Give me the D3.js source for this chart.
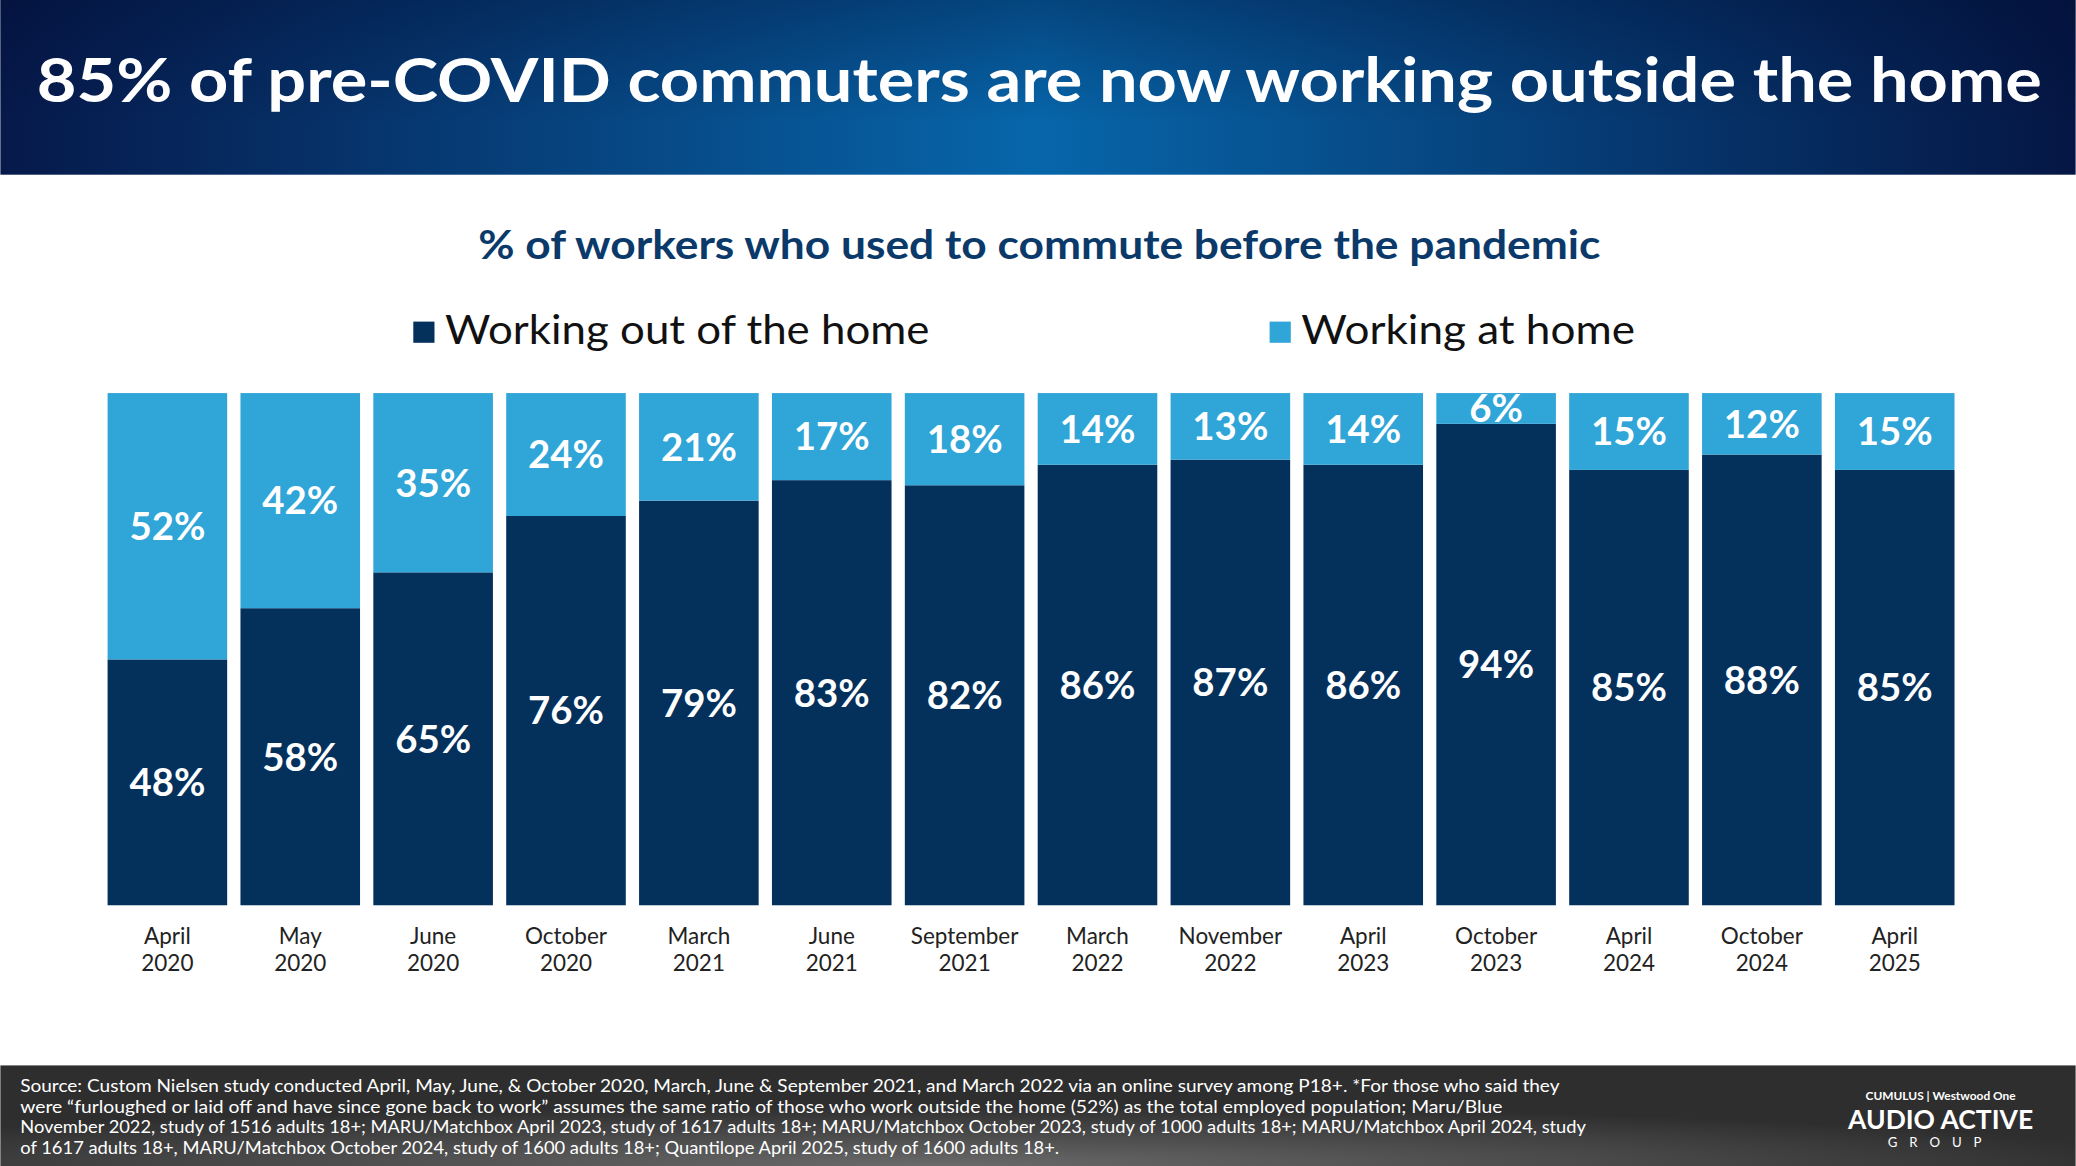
<!DOCTYPE html>
<html><head><meta charset="utf-8">
<script src="https://cdn.jsdelivr.net/npm/d3@7"></script>
<style>body{margin:0;background:#fff}svg{display:block}</style>
</head><body>
<svg id="c" width="2076" height="1166" viewBox="0 0 1568 881"></svg>
<script>
const periods = [["April","2020"],["May","2020"],["June","2020"],["October","2020"],["March","2021"],["June","2021"],["September","2021"],["March","2022"],["November","2022"],["April","2023"],["October","2023"],["April","2024"],["October","2024"],["April","2025"]];
const outside = [48,58,65,76,79,83,82,86,87,86,94,85,88,85];
const atHome = [52,42,35,24,21,17,18,14,13,14,6,15,12,15];
const seriesNames = ["Working out of the home","Working at home"];
const colors = ["#04305c","#2fa5d8"];
const footnote = [
 "Source: Custom Nielsen study conducted April, May, June, & October 2020, March, June & September 2021, and March 2022 via an online survey among P18+. *For those who said they",
 "were \u201cfurloughed or laid off and have since gone back  to work\u201d assumes the same ratio of those who work outside the home (52%) as the total employed population; Maru/Blue",
 "November 2022, study of 1516 adults 18+; MARU/Matchbox April 2023, study of 1617 adults 18+; MARU/Matchbox October 2023, study of 1000 adults 18+; MARU/Matchbox April 2024, study",
 "of 1617 adults 18+, MARU/Matchbox October 2024, study of 1600 adults 18+; Quantilope April 2025, study of 1600 adults 18+."
];
const footWidths = [1163, 1120, 1183, 785];

const svg = d3.select("#c");
const font = "Lato, 'Open Sans', sans-serif";
const defs = svg.append("defs");
const hg = defs.append("linearGradient").attr("id","hg").attr("x1",0).attr("x2",1).attr("y1",0).attr("y2",0);
hg.append("stop").attr("offset","0%").attr("stop-color","#06194a");
hg.append("stop").attr("offset","50%").attr("stop-color","#0766aa");
hg.append("stop").attr("offset","100%").attr("stop-color","#051644");
const vg = defs.append("linearGradient").attr("id","vg").attr("x1",0).attr("x2",0).attr("y1",0).attr("y2",1);
vg.append("stop").attr("offset","0%").attr("stop-color","#000a30").attr("stop-opacity",0.35);
vg.append("stop").attr("offset","70%").attr("stop-color","#000a30").attr("stop-opacity",0);
const fg = defs.append("radialGradient").attr("id","fg").attr("cx","45%").attr("cy","100%").attr("r","60%");
fg.append("stop").attr("offset","0%").attr("stop-color","#6a6a6a");
fg.append("stop").attr("offset","100%").attr("stop-color","#2e2e2e");

svg.append("rect").attr("width",1568).attr("height",132).attr("fill","url(#hg)");
svg.append("rect").attr("width",1568).attr("height",132).attr("fill","url(#vg)");
svg.append("text").attr("x",785).attr("y",77).attr("text-anchor","middle").attr("fill","#fff")
  .attr("font-family",font).attr("font-weight",700).attr("font-size",46)
  .attr("textLength",1515).attr("lengthAdjust","spacingAndGlyphs")
  .text("85% of pre-COVID commuters are now working outside the home");

svg.append("text").attr("x",785).attr("y",196).attr("text-anchor","middle").attr("fill","#0b3a6a")
  .attr("font-family",font).attr("font-weight",700).attr("font-size",30)
  .attr("textLength",848).attr("lengthAdjust","spacingAndGlyphs")
  .text("% of workers who used to commute before the pandemic");

const legX = [312, 959];
const legW = [366, 252];
seriesNames.forEach((n,i)=>{
  svg.append("rect").attr("x",legX[i]).attr("y",243).attr("width",16).attr("height",16).attr("fill",colors[i]);
  svg.append("text").attr("x",legX[i]+24).attr("y",260).attr("font-family",font).attr("font-size",31)
    .attr("textLength",legW[i]).attr("lengthAdjust","spacingAndGlyphs")
    .attr("fill","#111").text(n);
});

const x = d3.scaleBand().domain(d3.range(periods.length)).range([81,1476.5]).paddingInner(0.1).paddingOuter(0);
const y = d3.scaleLinear().domain([0,100]).range([684,297]);

const g = svg.append("g");
periods.forEach((p,i)=>{
  const bx = x(i), bw = x.bandwidth();
  g.append("rect").attr("x",bx).attr("width",bw).attr("y",y(outside[i])).attr("height",y(0)-y(outside[i])).attr("fill",colors[0]);
  g.append("rect").attr("x",bx).attr("width",bw).attr("y",y(100)).attr("height",y(outside[i])-y(100)).attr("fill",colors[1]);
  const cx = bx+bw/2;
  g.append("text").attr("x",cx).attr("y",(y(0)+y(outside[i]))/2).attr("dy","0.36em").attr("text-anchor","middle")
    .attr("fill","#fff").attr("font-family",font).attr("font-weight",700).attr("font-size",29).text(outside[i]+"%");
  g.append("text").attr("x",cx).attr("y",(y(100)+y(outside[i]))/2).attr("dy","0.36em").attr("text-anchor","middle")
    .attr("fill","#fff").attr("font-family",font).attr("font-weight",700).attr("font-size",29).text(atHome[i]+"%");
  p.forEach((t,k)=>g.append("text").attr("x",cx).attr("y",713+k*21).attr("text-anchor","middle")
    .attr("fill","#222").attr("font-family",font).attr("font-size",17).text(t));
});

svg.append("rect").attr("y",805).attr("width",1568).attr("height",76).attr("fill","url(#fg)");
footnote.forEach((l,i)=>svg.append("text").attr("x",15).attr("y",825+i*15.7).attr("fill","#fff")
  .attr("font-family",font).attr("font-size",12.6)
  .attr("textLength",footWidths[i]).attr("lengthAdjust","spacingAndGlyphs").text(l));
svg.append("text").attr("x",1466).attr("y",831).attr("text-anchor","middle").attr("fill","#fff")
  .attr("font-family",font).attr("font-size",9).attr("font-weight",700).text("CUMULUS  |  Westwood One");
svg.append("text").attr("x",1466).attr("y",853).attr("text-anchor","middle").attr("fill","#fff")
  .attr("font-family",font).attr("font-size",20).attr("font-weight",700).text("AUDIO ACTIVE");
svg.append("text").attr("x",1466).attr("y",867).attr("text-anchor","middle").attr("fill","#fff")
  .attr("font-family",font).attr("font-size",10).attr("letter-spacing",9).text("GROUP");
</script>
</body></html>
